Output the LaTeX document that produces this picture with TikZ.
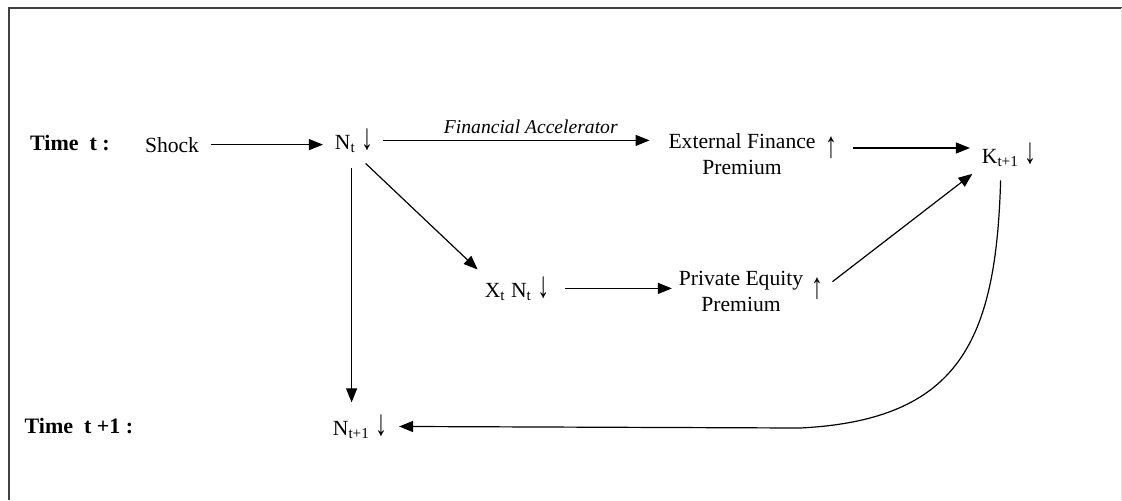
\documentclass[tikz,border=0pt]{standalone}
\usepackage{fontspec}
\setmainfont{Liberation Serif}
\usetikzlibrary{arrows.meta,calc}

\newcommand{\dn}{\scalebox{1.1}[1.7]{↓}}
\newcommand{\upa}{\scalebox{1.1}[1.7]{↑}}

\begin{document}
\begin{tikzpicture}[
        x=0.5pt, y=-0.5pt,
        arr/.style={line width=0.6pt, -{Triangle[length=7pt,width=5.5pt]},
            shorten <=6pt, shorten >=6pt},
        every node/.style={color=black, inner sep=0pt, outer sep=0pt,
            font=\fontsize{10.8}{13}\selectfont},
        timelabel/.style={font=\fontsize{11}{13}\selectfont\bfseries, anchor=base},
        item/.style={anchor=base},
        box/.style={align=center},
        frame/.style={line width=1pt, black!75},
    ]
    \useasboundingbox (0,0) rectangle (1122,500);
    % frame
    \draw[frame] (9,500) -- (9,8) -- (1122,8);
    \draw[black!12, line width=0.5pt] (1121,8) -- (1121,500);

    % time t
    \node[timelabel] (timet) at (70,150) {Time~~t :};
    \node[item] (shock) at (172,152) {Shock};
    \node[item] (nt) at (354,149) {N\textsubscript{t}~\dn};
    \node[box] (ext) at (742,154) {External Finance\\Premium};
    \node (extup) at (831,148) {\upa};
    \node[item] (k) at (1009,163) {K\textsubscript{t+1}~\dn};

    % middle row
    \node[item] (xn) at (517,297) {X\textsubscript{t} N\textsubscript{t}~\dn};
    \node[box] (priv) at (741,291) {Private Equity\\Premium};
    \node (privup) at (817,289) {\upa};

    % time t+1
    \node[timelabel] (timet1) at (79,433) {Time~~t +1 :};
    \node[item] (nt1) at (360,435) {N\textsubscript{t+1}~\dn};

    % arrows
    \draw[arr] (shock.east) -- (shock.east -| nt.west);
    \draw[arr, shorten <=5pt, shorten >=9.5pt] (nt.east) -- (nt.east -| ext.west)
        node[midway, above=3.5pt, xshift=5pt, font=\fontsize{9.8}{12}\selectfont\itshape]
        {Financial Accelerator};
    \draw[arr, shorten <=8pt] (extup.east) -- (extup.east -| k.west);
    \draw[arr, shorten <=8pt, shorten >=5pt] (nt.south) -- (xn.north west);
    \draw[arr, shorten <=8pt, shorten >=3.5pt] (xn.east) -- (xn.east -| priv.west);
    \draw[arr] (privup.east) -- (k.south west);
    \draw[arr, shorten <=8pt] ([xshift=-1.2pt]nt.south) -- ([xshift=-1.2pt]nt.south |- nt1.north);
    \draw[arr, shorten <=7pt] ([xshift=-4pt]k.south)
        .. controls (996,340) and (960,420) .. (800,428) -- (nt1.east);
\end{tikzpicture}
\end{document}
